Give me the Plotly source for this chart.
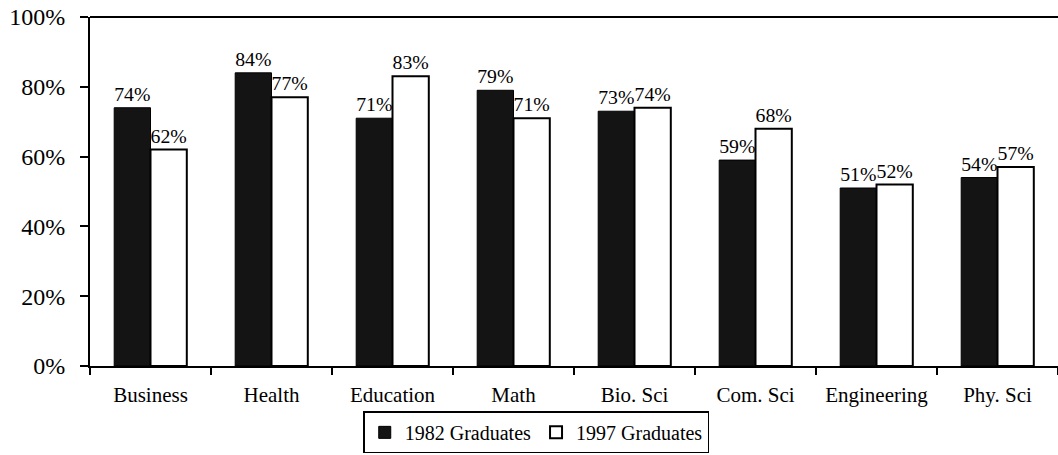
import plotly.graph_objects as go

categories = ["Business", "Health", "Education", "Math", "Bio. Sci", "Com. Sci", "Engineering", "Phy. Sci"]
grads_1982 = [74, 84, 71, 79, 73, 59, 51, 54]
grads_1997 = [62, 77, 83, 71, 74, 68, 52, 57]
y_ticks = [0, 20, 40, 60, 80, 100]
y_tick_labels = ["0%", "20%", "40%", "60%", "80%", "100%"]

FONT = "Liberation Serif"

fig = go.Figure()
fig.add_trace(go.Bar(
    x=categories, y=grads_1982, name="1982 Graduates",
    marker=dict(color="#141414", line=dict(color="#000000", width=1)),
    text=[f"{v}%" for v in grads_1982], textposition="outside",
    textfont=dict(family=FONT, size=20, color="black"), cliponaxis=False,
))
fig.add_trace(go.Bar(
    x=categories, y=grads_1997, name="1997 Graduates",
    marker=dict(color="#ffffff", line=dict(color="#000000", width=2)),
    text=[f"{v}%" for v in grads_1997], textposition="outside",
    textfont=dict(family=FONT, size=20, color="black"), cliponaxis=False,
))

fig.update_layout(
    width=1058, height=455,
    margin=dict(l=90, r=0, t=17, b=89, autoexpand=False),
    paper_bgcolor="white", plot_bgcolor="white",
    barmode="group", bargap=0.4, bargroupgap=0,
    font=dict(family=FONT, size=20, color="black"),
    showlegend=True,
    legend=dict(
        orientation="h", x=0.461, xanchor="center", y=-0.13, yanchor="top",
        bordercolor="black", borderwidth=1.5, font=dict(family=FONT, size=20),
        itemwidth=30, tracegroupgap=0,
    ),
    xaxis=dict(
        showline=True, linecolor="black", linewidth=2,
        ticks="outside", tickson="boundaries", ticklen=7, tickcolor="black", tickwidth=2,
        tickfont=dict(family=FONT, size=21), showgrid=False, automargin=False,
        ticklabelstandoff=9,
    ),
    yaxis=dict(
        range=[0, 100], showline=True, linecolor="black", linewidth=2,
        tickvals=y_ticks, ticktext=y_tick_labels,
        ticks="outside", ticklen=8, tickcolor="black", tickwidth=2,
        tickfont=dict(family=FONT, size=24), showgrid=False, zeroline=False,
        automargin=False, ticklabelstandoff=10, ticklabeloverflow="allow",
    ),
    shapes=[dict(type="line", xref="paper", yref="paper", x0=0, x1=1, y0=1, y1=1,
                 line=dict(color="black", width=2))],
    uniformtext=dict(minsize=10, mode="show"),
)

# remove the default page margin so the figure sits at the window's top-left corner
fig.write_html("out.html", config={"displayModeBar": False},
               post_script="document.body.style.margin='0';")
